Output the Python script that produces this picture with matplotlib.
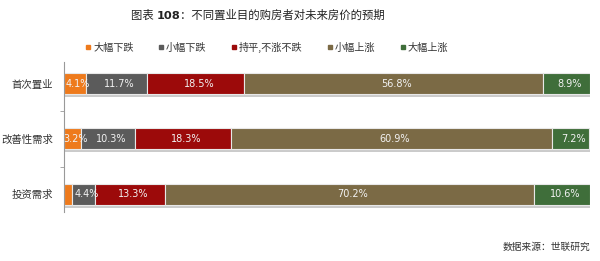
import numpy as np
import matplotlib
matplotlib.use("Agg")
import matplotlib.pyplot as plt
from matplotlib.lines import Line2D
from matplotlib.text import Annotation
import matplotlib.patheffects as pe

plt.rcParams['font.family'] = ['Noto Sans CJK SC', 'DejaVu Sans']

categories = ['首次置业', '改善性需求', '投资需求']
series_names = ['大幅下跌', '小幅下跌', '持平,不涨不跌', '小幅上涨', '大幅上涨']
da_die = [4.1, 3.2, 1.5]
xiao_die = [11.7, 10.3, 4.4]
chiping = [18.5, 18.3, 13.3]
xiao_zhang = [56.8, 60.9, 70.2]
da_zhang = [8.9, 7.2, 10.6]
colors = ['#EE7A1C', '#5B5B5B', '#9C0A0A', '#7B6A45', '#3F6E3A']

values = np.array([da_die, xiao_die, chiping, xiao_zhang, da_zhang])

fig = plt.figure(figsize=(6, 2.61), dpi=100)
ax = fig.add_axes([64 / 600, 1 - 212 / 261, (590 - 64) / 600, 150 / 261])

y = np.arange(len(categories))
left = np.zeros(len(categories))
shadow = [pe.SimplePatchShadow(offset=(1, -2), shadow_rgbFace='#999999', alpha=0.5), pe.Normal()]
for i, name in enumerate(series_names):
    bars = ax.barh(y, values[i], left=left, height=0.38, color=colors[i],
                   edgecolor='#E8E8E8', linewidth=0.8, label=name)
    for b in bars:
        b.set_path_effects(shadow)
    # 小于3%的不标
    for j, v in enumerate(values[i]):
        if v >= 3:
            ax.text(left[j] + v / 2 + 0.6, y[j], f'{v:.1f}%', ha='center', va='center',
                    fontsize=7, color='#F2F2F2', family='DejaVu Sans')
    left += values[i]

ax.set_xlim(0, 100)
ax.set_ylim(2.32, -0.39)
ax.set_yticks(y)
ax.set_yticklabels(categories, fontsize=7.5, color='#333333')
ax.tick_params(axis='y', which='major', length=0, pad=8)
ax.set_yticks([0.5, 1.5], minor=True)
ax.tick_params(axis='y', which='minor', length=3, color='#999999', direction='out')
ax.set_xticks([])
for s in ['top', 'right', 'bottom']:
    ax.spines[s].set_visible(False)
ax.spines['left'].set_color('#999999')
ax.spines['left'].set_linewidth(0.8)

handles = [Line2D([], [], marker='s', linestyle='none', markersize=3,
                  markerfacecolor=c, markeredgecolor=c) for c in colors]
fig.legend(handles, series_names, loc='center left', bbox_to_anchor=(86 / 600, 1 - 47 / 261),
           ncol=5, frameon=False, fontsize=7.3, handlelength=0.4, handletextpad=0.3,
           columnspacing=2.5, borderaxespad=0, borderpad=0, labelcolor='#333333')

# 标题, 108 加粗
t1 = fig.text(131 / 600, 1 - 15 / 261, '图表 ', fontsize=8.2, va='center', ha='left', color='#222222')
a2 = fig.add_artist(Annotation('108', xy=(1, 0), xycoords=t1, va='bottom', ha='left',
                               fontsize=8.2, fontweight='bold', color='#222222',
                               family='DejaVu Sans'))
fig.add_artist(Annotation('：不同置业目的购房者对未来房价的预期', xy=(1, 0), xycoords=a2,
                          va='bottom', ha='left', fontsize=8.2, color='#222222'))

fig.text(590 / 600, 1 - 247 / 261, '数据来源：世联研究', fontsize=7, ha='right', va='center',
         color='#333333')

fig.savefig('out.png', dpi=100)
